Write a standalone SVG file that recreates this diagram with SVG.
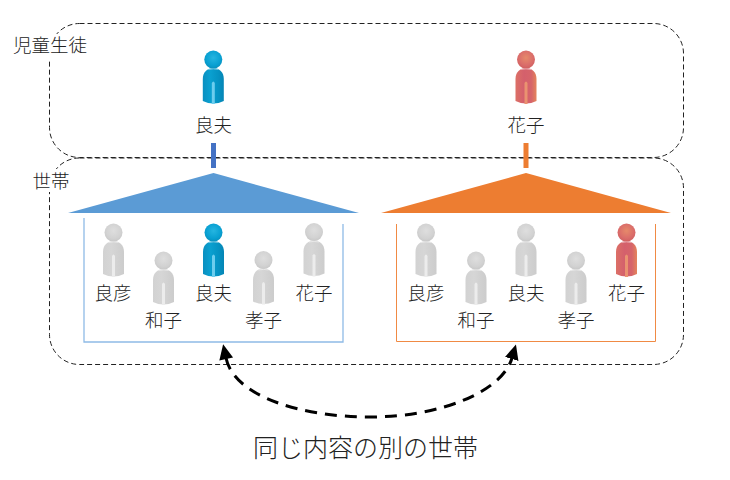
<svg xmlns="http://www.w3.org/2000/svg" xmlns:xlink="http://www.w3.org/1999/xlink" width="730" height="480" viewBox="0 0 730 480">
<style>
text{font-family:"Noto Sans CJK JP","Noto Sans",sans-serif;font-size:18.5px;fill:#222;text-anchor:middle;font-weight:300}
.big{font-size:25px}
.frame{fill:none;stroke:#222;stroke-width:1;stroke-dasharray:5 3}
.arc{fill:none;stroke:#000;stroke-width:3;stroke-dasharray:12 8}
.mask{fill:#fff}
.sheen{fill:none;stroke:#fff;stroke-opacity:.45;stroke-width:1}
</style>
<defs>
<linearGradient id="bb" x1="0" x2="1" y1="0" y2="0"><stop offset="0" stop-color="#0a8fc0"/><stop offset=".35" stop-color="#0aa0d0"/><stop offset=".75" stop-color="#0592c2"/><stop offset="1" stop-color="#0585b5"/></linearGradient>
<radialGradient id="bh" cx=".5" cy=".4" r=".6"><stop offset="0" stop-color="#25b5e0"/><stop offset=".7" stop-color="#08a0d2"/><stop offset="1" stop-color="#0890bd"/></radialGradient>
<linearGradient id="rb" x1="0" x2="1" y1="0" y2="0"><stop offset="0" stop-color="#dc7066"/><stop offset=".4" stop-color="#d4606c"/><stop offset=".75" stop-color="#d6646a"/><stop offset="1" stop-color="#e4845c"/></linearGradient>
<radialGradient id="rh" cx=".5" cy=".4" r=".6"><stop offset="0" stop-color="#e68a6a"/><stop offset=".7" stop-color="#da6c6a"/><stop offset="1" stop-color="#d06060"/></radialGradient>
<linearGradient id="gb" x1="0" x2="1" y1="0" y2="0"><stop offset="0" stop-color="#d2d2d2"/><stop offset=".4" stop-color="#d6d6d6"/><stop offset="1" stop-color="#cccccc"/></linearGradient>
<radialGradient id="gh" cx=".5" cy=".4" r=".6"><stop offset="0" stop-color="#dedede"/><stop offset=".7" stop-color="#d2d2d2"/><stop offset="1" stop-color="#c8c8c8"/></radialGradient>
<path id="body" d="M-10.5,41 V19 C-10.5,12 -6,8 0,8 C6,8 10.5,12 10.5,19 V41 Q0,46 -10.5,41Z"/>
<path id="shine" d="M-1.500,44 V23 Q0,20 1.500,23 V44Z"/>
<g id="pb"><use href="#body" fill="url(#bb)"/><use href="#shine" fill="#6ccdee"/><circle r="9" cy="-.4" fill="url(#bh)"/><path class="sheen" d="M-5,9.500 Q0,8.200 5,9.500"/></g>
<g id="pr"><use href="#body" fill="url(#rb)"/><use href="#shine" fill="#ea9270"/><circle r="9" cy="-.4" fill="url(#rh)"/><path class="sheen" d="M-5,9.500 Q0,8.200 5,9.500"/></g>
<g id="pg"><use href="#body" fill="url(#gb)"/><use href="#shine" fill="#ececec"/><circle r="9" cy="-.4" fill="url(#gh)"/><path class="sheen" d="M-5,9.500 Q0,8.200 5,9.500"/></g>
<marker id="tipEnd" markerUnits="userSpaceOnUse" markerWidth="20" markerHeight="20" refX="1" refY="8" orient="auto"><path d="M0,1 L15,8 L0,15Z" fill="#000"/></marker>
<marker id="tipStart" markerUnits="userSpaceOnUse" markerWidth="20" markerHeight="20" refX="14" refY="8" orient="auto"><path d="M15,1 L0,8 L15,15Z" fill="#000"/></marker>
</defs>
<rect width="730" height="480" fill="#fff"/>
<g id="frame-students"><rect class="frame" x="49.5" y="23.5" width="634" height="134" rx="30"/><rect class="mask" x="12" y="34" width="76" height="26"/><text x="50" y="52">児童生徒</text></g>
<g id="frame-households"><rect class="frame" x="49.5" y="158" width="634" height="206.5" rx="30"/><rect class="mask" x="30" y="169" width="42" height="23"/><text x="51" y="188">世帯</text></g>
<g id="student-yoshio"><use href="#pb" x="213.3" y="60"/><text x="213.5" y="132">良夫</text></g>
<g id="student-hanako"><use href="#pr" x="526" y="60"/><text x="526" y="132">花子</text></g>
<g id="connectors">
<rect x="211" y="143" width="5" height="25" fill="#4472c4"/>
<rect x="523.5" y="143" width="5" height="25" fill="#ed7d31"/>
<path class="arc" d="M226,358 C234,396 300,417 370,417 C440,417 502,392 512,358" marker-start="url(#tipStart)" marker-end="url(#tipEnd)"/>
</g>
<g id="household-1">
<path d="M68,213 L213.5,173 L359,213Z" fill="#5b9bd5"/>
<path d="M84,218 V342 H343 V224" fill="none" stroke="#8fbbe6" stroke-width="1.3"/>
<g id="h1-yoshihiko"><use href="#pg" x="113.5" y="233"/><text x="113" y="300">良彦</text></g>
<g id="h1-kazuko"><use href="#pg" x="163.5" y="261"/><text x="163.5" y="327">和子</text></g>
<g id="h1-yoshio"><use href="#pb" x="213.5" y="233"/><text x="213.5" y="300">良夫</text></g>
<g id="h1-takako"><use href="#pg" x="263.5" y="260.5"/><text x="263.5" y="327">孝子</text></g>
<g id="h1-hanako"><use href="#pg" x="314" y="232.5"/><text x="314" y="300">花子</text></g>
</g>
<g id="household-2">
<path d="M381,213 L526,173 L671,213Z" fill="#ed7d31"/>
<path d="M396.500,224 V341.500 H655.500 V224" fill="none" stroke="#f08a44" stroke-width="1"/>
<g id="h2-yoshihiko"><use href="#pg" x="426" y="233"/><text x="426" y="300">良彦</text></g>
<g id="h2-kazuko"><use href="#pg" x="476" y="261"/><text x="476" y="327">和子</text></g>
<g id="h2-yoshio"><use href="#pg" x="526" y="233"/><text x="526" y="300">良夫</text></g>
<g id="h2-takako"><use href="#pg" x="576" y="261"/><text x="576" y="327">孝子</text></g>
<g id="h2-hanako"><use href="#pr" x="626.5" y="233"/><text x="626.5" y="300">花子</text></g>
</g>
<text class="big" x="365.500" y="457">同じ内容の別の世帯</text>
</svg>
